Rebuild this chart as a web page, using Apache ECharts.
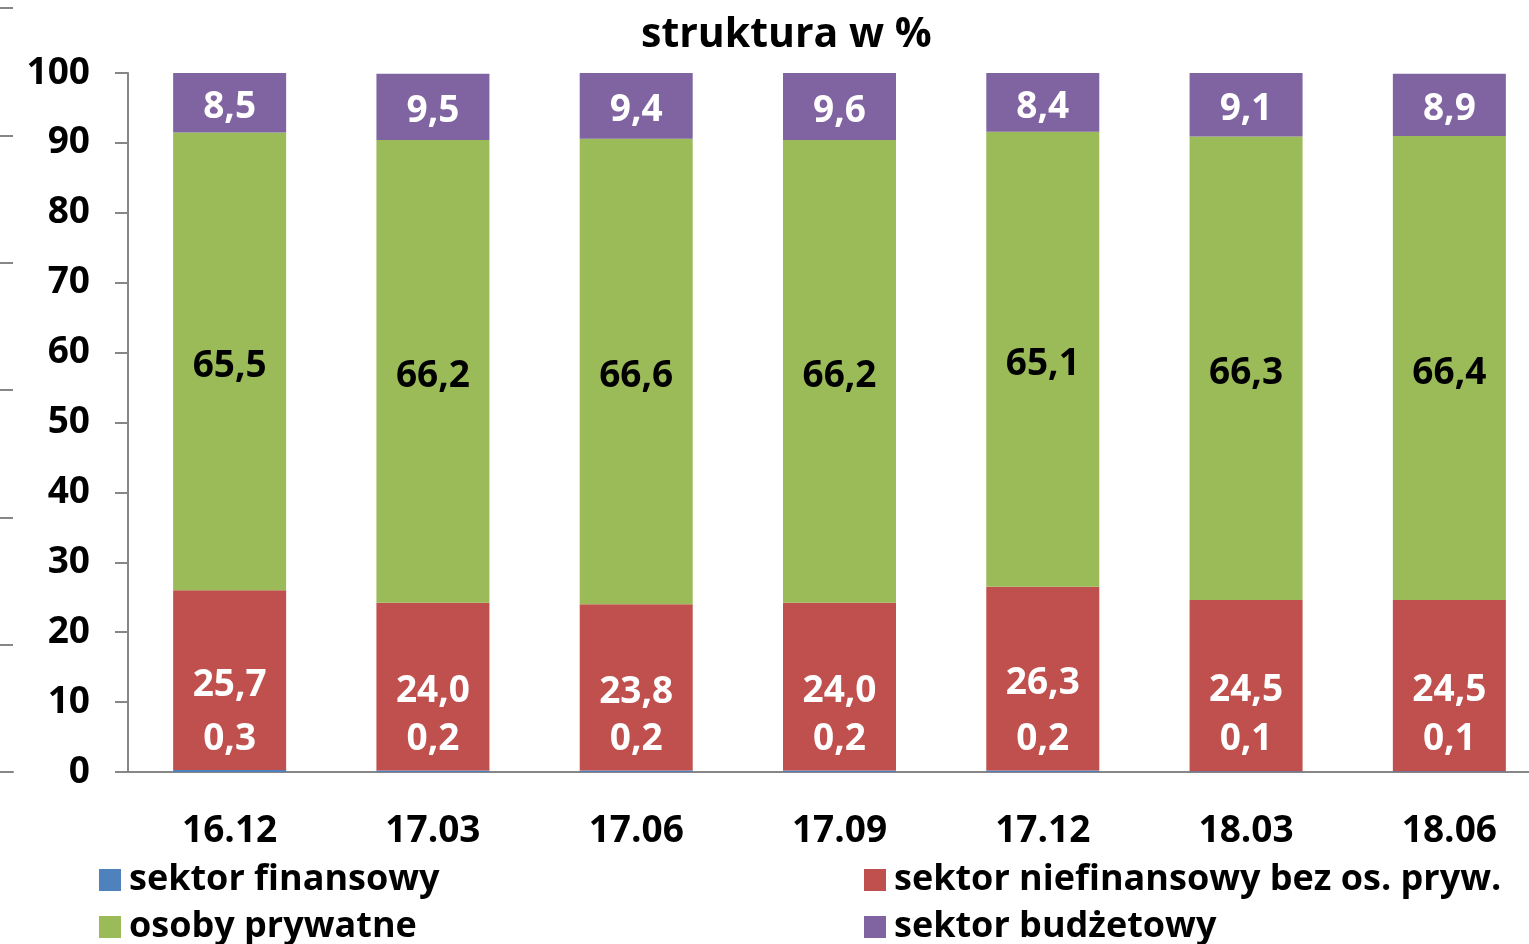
<!DOCTYPE html>
<html>
<head>
<meta charset="utf-8">
<script src="https://cdn.jsdelivr.net/npm/echarts@6/dist/echarts.min.js"></script>
<style>
  html, body { margin: 0; padding: 0; background: #fff; }
  #chart { width: 1529px; height: 944px; }
</style>
</head>
<body>
<div id="chart"></div>
<script>
const categories = ["16.12", "17.03", "17.06", "17.09", "17.12", "18.03", "18.06"];
const sektorFinansowy = [0.3, 0.2, 0.2, 0.2, 0.2, 0.1, 0.1];
const sektorNiefinansowy = [25.7, 24.0, 23.8, 24.0, 26.3, 24.5, 24.5];
const osobyPrywatne = [65.5, 66.2, 66.6, 66.2, 65.1, 66.3, 66.4];
const sektorBudzetowy = [8.5, 9.5, 9.4, 9.6, 8.4, 9.1, 8.9];

const FONT = "Open Sans";
const axisGray = "#868686";
const fmt = p => p.value.toFixed(1).replace(".", ",");

const chart = echarts.init(document.getElementById("chart"));

const labelStyle = (color, position, extra) => Object.assign({
  show: true,
  position: position,
  formatter: fmt,
  color: color,
  fontFamily: FONT,
  fontWeight: "bold",
  fontSize: 37,
  offset: [0, 5]
}, extra || {});

const barSeries = (name, data, color, label) => ({
  name: name,
  type: "bar",
  stack: "total",
  barWidth: 113,
  data: data,
  itemStyle: { color: color },
  label: label
});

// one legend per item so the 2x2 layout stays put
const legendItem = (name, left, top) => ({
  data: [name],
  left: left,
  top: top,
  icon: "rect",
  itemWidth: 22,
  itemHeight: 22,
  textStyle: {
    fontFamily: FONT, fontWeight: "bold", fontSize: 36, color: "#000",
    padding: [0, 0, 0, 3]
  }
});

chart.setOption({
  animation: false,
  title: {
    text: "struktura w %",
    left: 636,
    top: 10,
    textStyle: { fontFamily: FONT, fontWeight: "bold", fontSize: 41, color: "#000" }
  },
  legend: [
    legendItem("sektor finansowy", 94, 857),
    legendItem("osoby prywatne", 94, 904),
    legendItem("sektor niefinansowy bez os. pryw.", 859, 857),
    legendItem("sektor budżetowy", 859, 904)
  ],
  grid: [
    { left: 128, top: 73, right: -22, bottom: 172, outerBoundsMode: "none" },
    // remnant of the neighbouring chart, cut at the left edge
    { left: 0, top: 8, width: 13, bottom: 172, outerBoundsMode: "none" }
  ],
  xAxis: [
    {
      type: "category",
      data: categories,
      gridIndex: 0,
      axisLine: { lineStyle: { color: axisGray, width: 2 } },
      axisTick: { length: 13, lineStyle: { color: axisGray, width: 2 } },
      axisLabel: { margin: 41, color: "#000", fontFamily: FONT, fontWeight: "bold", fontSize: 37 }
    },
    {
      type: "category",
      data: [""],
      gridIndex: 1,
      axisLine: { lineStyle: { color: axisGray, width: 2 } },
      axisTick: { length: 13, lineStyle: { color: axisGray, width: 2 } },
      axisLabel: { show: false }
    }
  ],
  yAxis: [
    {
      type: "value",
      gridIndex: 0,
      min: 0,
      max: 100,
      interval: 10,
      splitLine: { show: false },
      axisLine: { show: true, lineStyle: { color: axisGray, width: 2 } },
      axisTick: { show: true, length: 13, lineStyle: { color: axisGray, width: 2 } },
      axisLabel: { margin: 38, color: "#000", fontFamily: FONT, fontWeight: "bold", fontSize: 37 }
    },
    {
      type: "value",
      gridIndex: 1,
      position: "right",
      min: 0,
      max: 6,
      interval: 1,
      splitLine: { show: false },
      axisLine: { show: false },
      axisTick: { show: true, inside: true, length: 13, lineStyle: { color: axisGray, width: 2 } },
      axisLabel: { show: false }
    }
  ],
  series: [
    barSeries("sektor finansowy", sektorFinansowy, "#4F81BD",
      labelStyle("#fff", "insideBottom", { distance: 14, offset: [0, 0] })),
    barSeries("sektor niefinansowy bez os. pryw.", sektorNiefinansowy, "#C0504D",
      labelStyle("#fff", "inside")),
    barSeries("osoby prywatne", osobyPrywatne, "#9BBB59",
      labelStyle("#000", "inside")),
    barSeries("sektor budżetowy", sektorBudzetowy, "#8064A2",
      labelStyle("#fff", "inside"))
  ]
});
</script>
</body>
</html>
